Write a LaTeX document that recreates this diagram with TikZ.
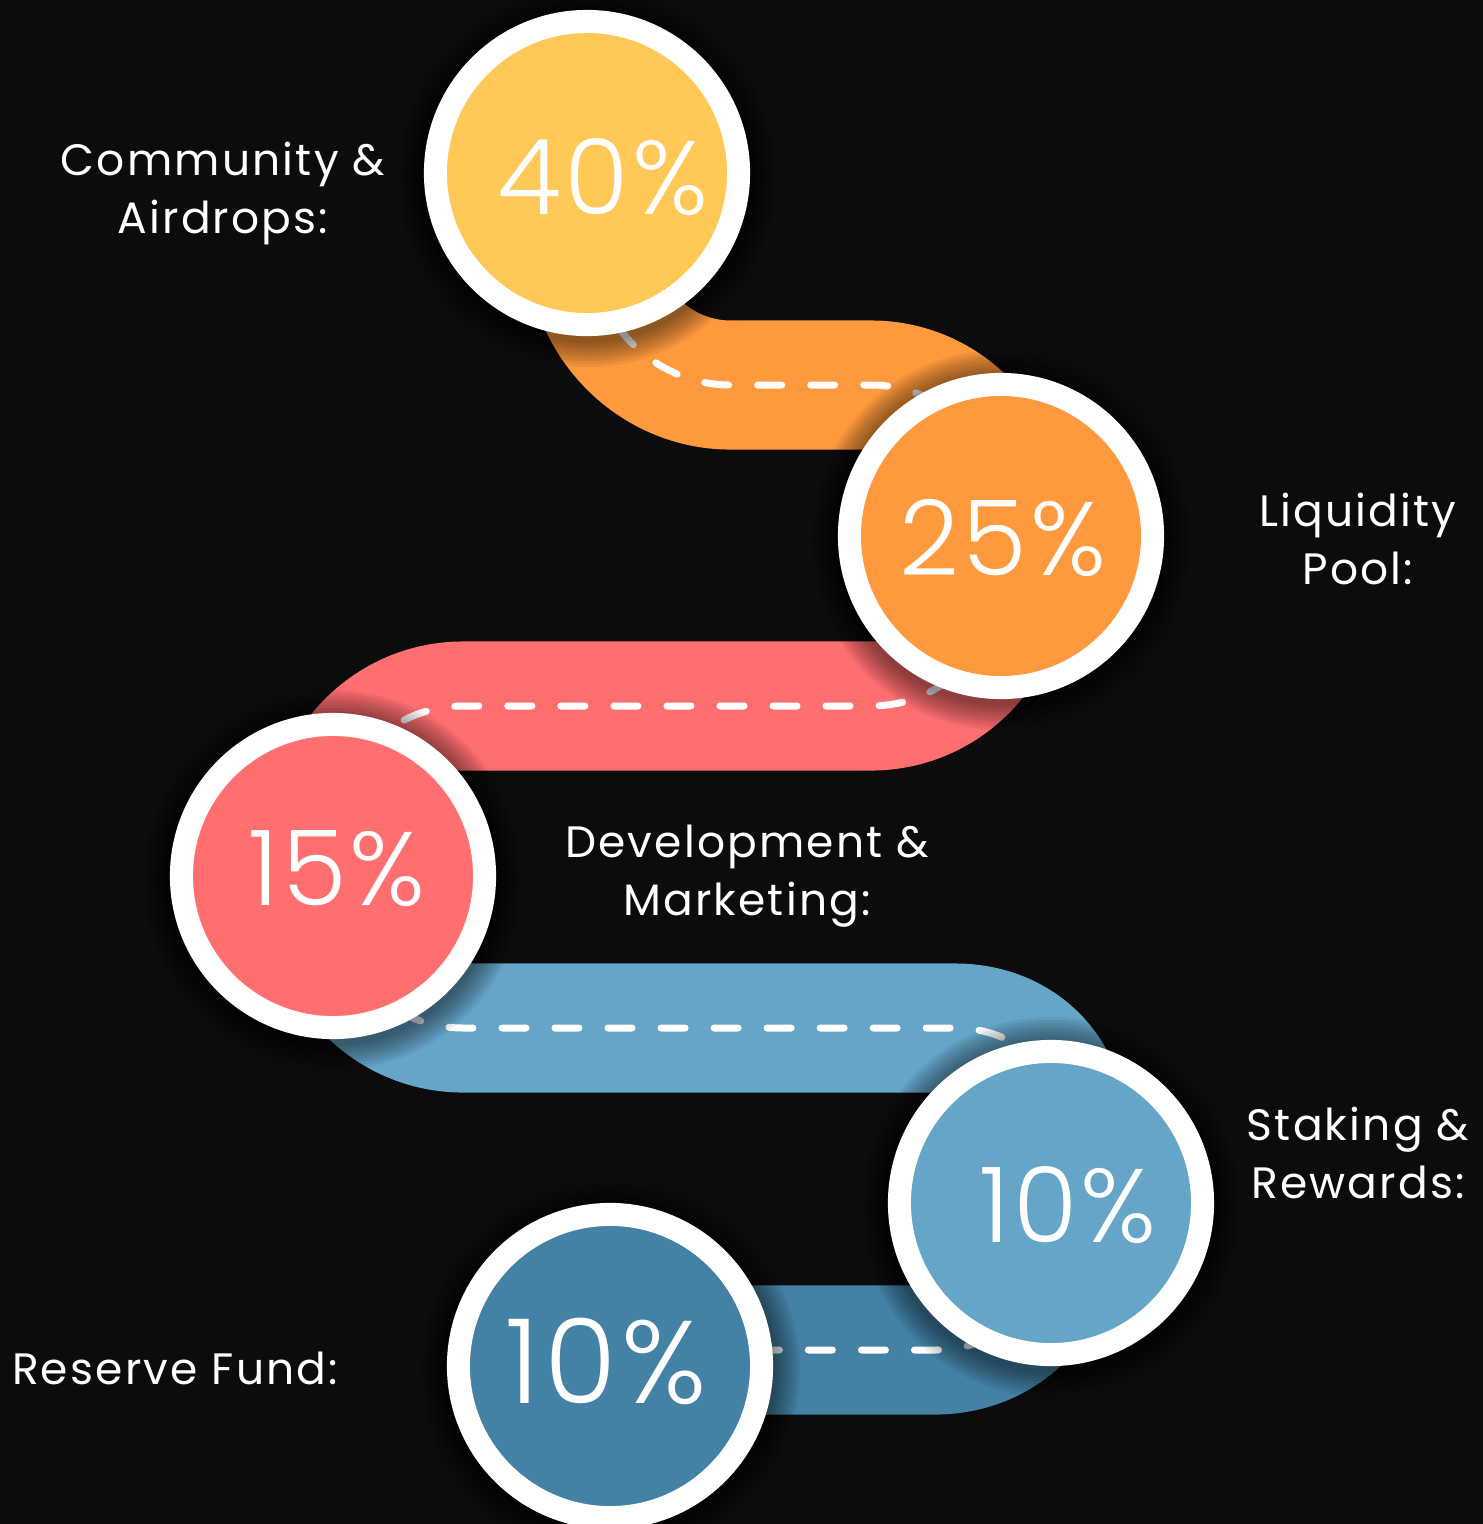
\documentclass[tikz,border=0pt]{standalone}
\usepackage{fontspec}
\setmainfont{Poppins}
\IfFontExistsTF{Poppins Light}
  {\newfontfamily\thinface{Poppins Light}}
  {\newfontfamily\thinface{Poppins}}
\usetikzlibrary{backgrounds}

\definecolor{bgdark}{HTML}{0C0C0C}
\definecolor{yellowA}{HTML}{FFC857}
\definecolor{orangeA}{HTML}{FF993D}
\definecolor{pinkA}{HTML}{FF6F70}
\definecolor{skyA}{HTML}{64A5C8}
\definecolor{steelA}{HTML}{4382A5}

\newcommand{\numfont}{\thinface\fontsize{29.7}{32}\selectfont\addfontfeatures{LetterSpace=3}}
\newcommand{\tagfont}{\fontsize{12.5}{16.5}\selectfont\addfontfeatures{LetterSpace=5}}

\tikzset{
  ring/.style={circle, draw=white, line width=0.23cm, minimum size=3.03cm,
    inner sep=0pt},
  num/.style={text=white, font=\numfont, inner sep=0pt},
  band/.style={line width=1.29cm, rounded corners=1.3cm},
  lane/.style={white, line width=0.07cm, line cap=round,
    dash pattern=on 0.24cm off 0.29cm, rounded corners=1.3cm},
  tag/.style={text=white, align=center, font=\tagfont},
}

\begin{document}
\begin{tikzpicture}[x=0.01cm, y=-0.01cm]
  \useasboundingbox (0,0) rectangle (1483,1524);

  % circles
  \node[ring, fill=yellowA] (p40) at (587,173) {};
  \node[ring, fill=orangeA] (p25) at (1001,536) {};
  \node[ring, fill=pinkA] (p15) at (333,876) {};
  \node[ring, fill=skyA] (pS) at (1051,1203) {};
  \node[ring, fill=steelA] (pR) at (610,1366) {};

  % percentages
  \node[num] (n40) at (603,177) {40\%};
  \node[num] (n25) at (1003,538) {25\%};
  \node[num] (n15) at (337,869) {15\%};
  \node[num] (nS) at (1068,1205) {10\%};
  \node[num, font=\thinface\fontsize{33.4}{35}\selectfont\addfontfeatures{LetterSpace=4}] (nR) at (606,1361) {10\%};

  % labels
  \node[tag] (tCom) at (223,193) {Community \&\\Airdrops:};
  \node[tag] (tLiq) at (1358,539) {Liquidity\\Pool:};
  \node[tag] (tDev) at (747,876) {Development \&\\Marketing:};
  \node[tag] (tStk) at (1358,1153) {Staking \&\\Rewards:};
  \node[tag, anchor=base] (tRes) at (175,1384) {Reserve Fund:};

  % bends
  \coordinate (o1) at (600,385);
  \coordinate (o2) at (1001,385);
  \coordinate (r1) at (1001,706);
  \coordinate (r2) at (333,706);
  \coordinate (b1) at (333,1028);
  \coordinate (b2) at (1085,1028);
  \coordinate (d1) at (1065,1350);
  \coordinate (d2) at (610,1350);

  \begin{scope}[on background layer]
    \fill[bgdark] (0,0) rectangle (1483,1524);

    \draw[band, orangeA] (p40.center) -- (o1) -- (o2) -- (p25.center);
    \draw[band, pinkA] (p25.center) -- (r1) -- (r2) -- (p15.center);
    \draw[band, skyA] (p15.center) -- (b1) -- (b2) -- (pS.center);
    \draw[band, steelA] (pS.center) -- (d1) -- (d2);

    \draw[lane] (p40.center) -- (o1) -- (o2) -- (p25.center);
    \draw[lane] (p25.center) -- (r1) -- (r2) -- (p15.center);
    \draw[lane] (p15.center) -- (b1) -- (b2) -- (pS.center);
    \draw[lane] (pS.center) -- (d1) -- (d2);

    % soft shadow round each circle
    \foreach \c in {p40, p25, p15, pS, pR}
      \foreach \k in {1,...,9}
        \fill[black, opacity=0.06] ([yshift=-0.04cm]\c.center) circle ({1.63cm + \k*0.03cm});
  \end{scope}
\end{tikzpicture}
\end{document}
